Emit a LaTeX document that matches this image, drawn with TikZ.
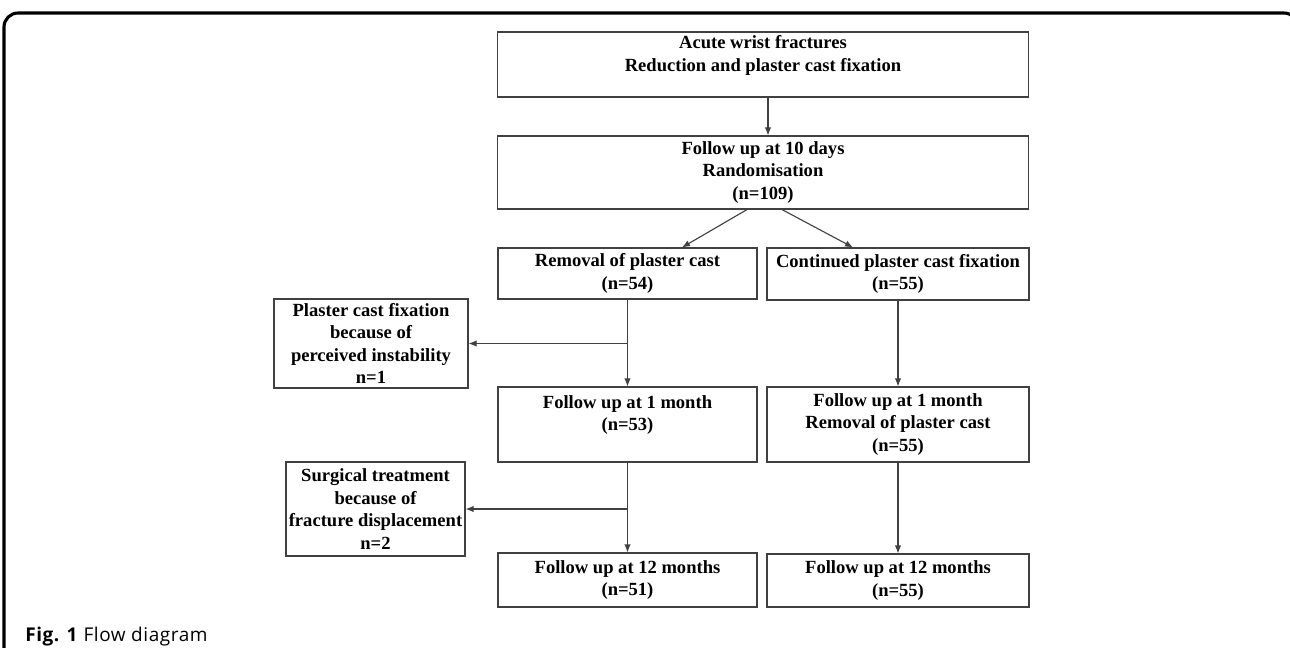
\documentclass[tikz,border=0pt]{standalone}
\usepackage{fontspec}
\setmainfont{Liberation Serif}
\newfontfamily\capfont[LetterSpace=3]{Open Sans}
\usetikzlibrary{arrows.meta}
\usetikzlibrary{calc}

\tikzset{
  flowbox/.style={draw=black!75,line width=0.8pt,align=center,inner sep=1pt,
    font=\fontsize{13.2}{16}\selectfont\bfseries},
  flowarrow/.style={draw=black!75,line width=0.8pt,-{Latex[length=2mm,width=1.6mm]}}
}

\begin{document}
\begin{tikzpicture}[x=0.025cm,y=-0.025cm]
\useasboundingbox (0,0) rectangle (1290,647);
\draw[line width=2.2pt,rounded corners=0.35cm] (4,660) |- (1298,13) -- (1298,40);

% main column
\node[flowbox,minimum width=13.25cm,minimum height=1.625cm] (acute) at (763,64.5) {Acute wrist fractures\\Reduction and plaster cast fixation\\\mbox{}};
\node[flowbox,minimum width=13.25cm,minimum height=1.825cm] (rand) at (763,172.5) {Follow up at 10 days\\Randomisation\\(n=109)};

% removal arm
\node[flowbox,minimum width=6.475cm,minimum height=1.275cm] (removal) at (627.5,273.5) {Removal of plaster cast\\(n=54)};
\node[flowbox,minimum width=6.475cm,minimum height=1.875cm] (fuoneL) at (627.5,424.5) {Follow up at 1 month\\(n=53)\\\mbox{}};
\node[flowbox,minimum width=6.475cm,minimum height=1.35cm] (futwelveL) at (627.5,580) {Follow up at 12 months\\(n=51)};

% plaster arm
\node[flowbox,minimum width=6.55cm,minimum height=1.3cm] (cont) at (898,274) {Continued plaster cast fixation\\(n=55)};
\node[flowbox,minimum width=6.55cm,minimum height=1.875cm] (fuoneR) at (898,424.5) {Follow up at 1 month\\Removal of plaster cast\\(n=55)};
\node[flowbox,minimum width=6.55cm,minimum height=1.325cm] (futwelveR) at (898,580.5) {Follow up at 12 months\\(n=55)};

% exclusions
\node[flowbox,minimum width=4.85cm,minimum height=2.225cm] (plaster) at (371,343.5) {Plaster cast fixation\\because of\\perceived instability\\n=1};
\node[flowbox,minimum width=4.475cm,minimum height=2.35cm] (surgical) at (375.5,509) {Surgical treatment\\because of\\fracture displacement\\n=2};

\draw[flowarrow] ($(acute.south)+(5,0)$) -- ($(rand.north)+(5,0)$);
\draw[flowarrow] ($(rand.south)+(-16,0)$) -- ($(removal.north)+(54.5,0)$);
\draw[flowarrow] ($(rand.south)+(19,0)$) -- ($(cont.north)+(-45,0)$);
\draw[flowarrow] (removal) -- (fuoneL);
\draw[flowarrow] (plaster.east -| removal.south) -- (plaster.east);
\draw[flowarrow] (fuoneL) -- (futwelveL);
\draw[flowarrow] (surgical.east -| fuoneL.south) -- (surgical.east);
\draw[flowarrow] (cont) -- (fuoneR);
\draw[flowarrow] (fuoneR) -- (futwelveR);

\node[anchor=base west,inner sep=0pt,font=\capfont\fontsize{13.5}{16}\selectfont] (caption) at (25,641) {\textbf{Fig. 1} Flow diagram};
\end{tikzpicture}
\end{document}
